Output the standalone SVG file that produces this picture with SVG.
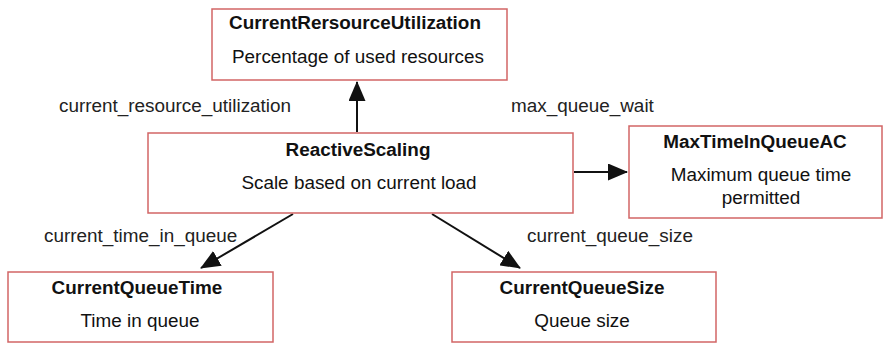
<svg xmlns="http://www.w3.org/2000/svg" width="885" height="343" viewBox="0 0 885 343">
  <style>
    .box { fill: #ffffff; stroke: #d26565; stroke-width: 1.5; }
    .title { font-family: "Liberation Sans", Arial, sans-serif; font-size: 18.9px; font-weight: bold; fill: #111; text-anchor: middle; }
    .desc { font-family: "Liberation Sans", Arial, sans-serif; font-size: 18.9px; fill: #111; text-anchor: middle; }
    .label { font-family: "Liberation Sans", Arial, sans-serif; font-size: 18.9px; fill: #222; }
    .edge { stroke: #111; stroke-width: 2; fill: none; marker-end: url(#arrow); }
  </style>
  <defs>
    <marker id="arrow" viewBox="0 0 20 17" refX="19" refY="8.5" markerWidth="20" markerHeight="17" markerUnits="userSpaceOnUse" orient="auto">
      <path d="M0,0 L20,8.5 L0,17 Z" fill="#111"/>
    </marker>
  </defs>
  <rect width="885" height="343" fill="#ffffff"/>

  <g id="edges">
    <line class="edge" x1="357" y1="132" x2="357" y2="82"/>
    <line class="edge" x1="574" y1="172" x2="627" y2="172"/>
    <line class="edge" x1="293" y1="214" x2="201" y2="268"/>
    <line class="edge" x1="432" y1="214" x2="520" y2="268"/>
    <text class="label" x="59" y="112">current_resource_utilization</text>
    <text class="label" x="511" y="112">max_queue_wait</text>
    <text class="label" x="44" y="242">current_time_in_queue</text>
    <text class="label" x="527" y="242">current_queue_size</text>
  </g>

  <g id="CurrentRersourceUtilization">
    <rect class="box" x="212" y="9" width="295" height="71"/>
    <text class="title" x="355" y="29">CurrentRersourceUtilization</text>
    <text class="desc" x="358" y="63">Percentage of used resources</text>
  </g>

  <g id="ReactiveScaling">
    <rect class="box" x="148" y="133" width="425" height="80"/>
    <text class="title" x="358" y="156">ReactiveScaling</text>
    <text class="desc" x="359" y="189">Scale based on current load</text>
  </g>

  <g id="MaxTimeInQueueAC">
    <rect class="box" x="629" y="126" width="253" height="92"/>
    <text class="title" x="755" y="148">MaxTimeInQueueAC</text>
    <text class="desc" x="761" y="181">Maximum queue time</text>
    <text class="desc" x="761" y="204">permitted</text>
  </g>

  <g id="CurrentQueueTime">
    <rect class="box" x="8" y="272" width="265" height="70"/>
    <text class="title" x="137" y="294">CurrentQueueTime</text>
    <text class="desc" x="140" y="327">Time in queue</text>
  </g>

  <g id="CurrentQueueSize">
    <rect class="box" x="452" y="272" width="264" height="70"/>
    <text class="title" x="582" y="294">CurrentQueueSize</text>
    <text class="desc" x="582" y="327">Queue size</text>
  </g>
</svg>
